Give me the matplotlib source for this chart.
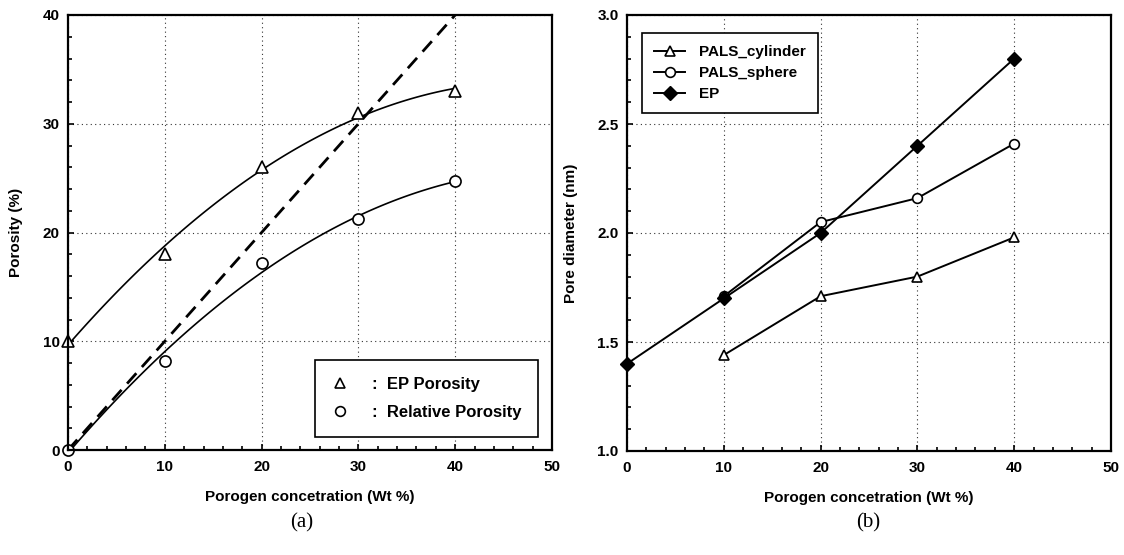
import numpy as np
import matplotlib
matplotlib.use('Agg')
import matplotlib.pyplot as plt
from matplotlib.ticker import MultipleLocator, FormatStrFormatter
from matplotlib.lines import Line2D

plt.rcParams['font.family'] = ['Liberation Sans', 'DejaVu Sans']
plt.rcParams['font.weight'] = 'bold'

# panel (a): porosity
conc = [0, 10, 20, 30, 40]
ep_porosity = [10, 18, 26, 31, 33]
rel_porosity = [0, 8.2, 17.2, 21.2, 24.7]
ideal_x = [0, 40]
ideal_y = [0, 40]

# panel (b): pore diameter
pals_x = [10, 20, 30, 40]
pals_cyl = [1.44, 1.71, 1.80, 1.98]
pals_sph = [1.71, 2.05, 2.16, 2.41]
ep_x = [0, 10, 20, 30, 40]
ep_diam = [1.40, 1.70, 2.00, 2.40, 2.80]

xlabel = 'Porogen concetration (Wt %)'

fig = plt.figure(figsize=(11.24, 5.55), dpi=100)
ax1 = fig.add_axes([68/1124, 105/555, 484/1124, 435/555])
ax2 = fig.add_axes([627/1124, 104/555, 484/1124, 436/555])


def style_axis(ax):
    for key in ax.spines:
        ax.spines[key].set_linewidth(1.6)
    ax.tick_params(which='both', direction='in', top=False, right=False,
                   labelsize=11, width=1.2)
    ax.tick_params(axis='x', pad=7)
    ax.tick_params(axis='y', pad=6)
    ax.tick_params(which='major', length=4)
    ax.tick_params(which='minor', length=3)
    ax.grid(True, which='major', linestyle=(0, (1, 3)), color='#333333', linewidth=0.8)
    for lab in ax.get_xticklabels() + ax.get_yticklabels():
        lab.set_fontweight('bold')


# ---- (a)
xs = np.linspace(0, 40, 100)
fit_ep = np.polyfit(conc, ep_porosity, 2)
fit_rel = np.polyfit(conc, rel_porosity, 2)
ax1.plot(xs, np.polyval(fit_ep, xs), color='black', linewidth=1.2)
ax1.plot(xs, np.polyval(fit_rel, xs), color='black', linewidth=1.2)
ax1.plot(ideal_x, ideal_y, color='black', linewidth=2, linestyle=(0, (5, 3)))
ax1.plot(conc, ep_porosity, linestyle='none', marker='^', markersize=8,
         markerfacecolor='white', markeredgecolor='black', markeredgewidth=1.2, clip_on=False)
ax1.plot(conc, rel_porosity, linestyle='none', marker='o', markersize=8,
         markerfacecolor='white', markeredgecolor='black', markeredgewidth=1.2, clip_on=False)

ax1.set_xlim(0, 50)
ax1.set_ylim(0, 40)
ax1.xaxis.set_major_locator(MultipleLocator(10))
ax1.xaxis.set_minor_locator(MultipleLocator(2))
ax1.yaxis.set_major_locator(MultipleLocator(10))
ax1.yaxis.set_minor_locator(MultipleLocator(2))
style_axis(ax1)
ax1.set_xlabel(xlabel, fontsize=11, fontweight='bold', labelpad=12)
ax1.set_ylabel('Porosity (%)', fontsize=11, fontweight='bold', labelpad=14)

h1 = Line2D([], [], linestyle='none', marker='^', markersize=7,
            markerfacecolor='white', markeredgecolor='black', markeredgewidth=1.2)
h2 = Line2D([], [], linestyle='none', marker='o', markersize=7,
            markerfacecolor='white', markeredgecolor='black', markeredgewidth=1.2)
leg1 = ax1.legend([h1, h2], [':  EP Porosity', ':  Relative Porosity'],
                  loc='lower right', bbox_to_anchor=(0.971, 0.03),
                  fancybox=False, edgecolor='black', framealpha=1,
                  prop={'size': 12, 'weight': 'bold'},
                  borderpad=1.0, labelspacing=0.8, handlelength=1.0,
                  handletextpad=1.4, borderaxespad=0)
leg1.get_frame().set_linewidth(1.2)

# ---- (b)
ax2.plot(pals_x, pals_cyl, color='black', linewidth=1.4, marker='^', markersize=7,
         markerfacecolor='white', markeredgecolor='black', markeredgewidth=1.2,
         label='PALS_cylinder')
ax2.plot(pals_x, pals_sph, color='black', linewidth=1.4, marker='o', markersize=7,
         markerfacecolor='white', markeredgecolor='black', markeredgewidth=1.2,
         label='PALS_sphere')
ax2.plot(ep_x, ep_diam, color='black', linewidth=1.4, marker='D', markersize=7,
         markerfacecolor='black', markeredgecolor='black', clip_on=False,
         label='EP')

ax2.set_xlim(0, 50)
ax2.set_ylim(1.0, 3.0)
ax2.xaxis.set_major_locator(MultipleLocator(10))
ax2.xaxis.set_minor_locator(MultipleLocator(2))
ax2.yaxis.set_major_locator(MultipleLocator(0.5))
ax2.yaxis.set_minor_locator(MultipleLocator(0.1))
ax2.yaxis.set_major_formatter(FormatStrFormatter('%.1f'))
style_axis(ax2)
ax2.set_xlabel(xlabel, fontsize=11, fontweight='bold', labelpad=12)
ax2.set_ylabel('Pore diameter (nm)', fontsize=11, fontweight='bold', labelpad=14)

leg2 = ax2.legend(loc='upper left', bbox_to_anchor=(0.031, 0.959),
                  fancybox=False, edgecolor='black', framealpha=1,
                  prop={'size': 11, 'weight': 'bold'},
                  borderpad=0.8, labelspacing=0.45, handlelength=2.0,
                  handletextpad=0.9, borderaxespad=0)
leg2.get_frame().set_linewidth(1.2)

fig.text(302/1124, 1 - 523/555, '(a)', family='Liberation Serif', fontsize=15,
         fontweight='normal', ha='center', va='center')
fig.text(868/1124, 1 - 523/555, '(b)', family='Liberation Serif', fontsize=15,
         fontweight='normal', ha='center', va='center')

fig.savefig('out.png', dpi=100)
